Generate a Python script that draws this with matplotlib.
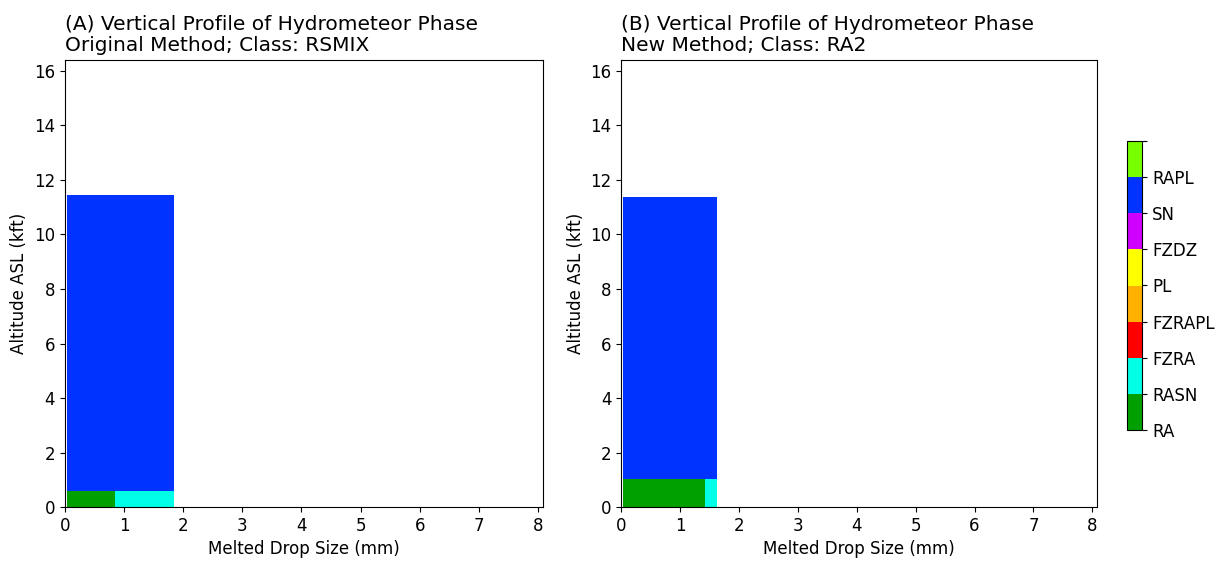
import numpy as np
import matplotlib
matplotlib.use("Agg")
import matplotlib.pyplot as plt
from matplotlib.colors import ListedColormap, BoundaryNorm

# Class names (colorbar order) and colours
classes = ["RA", "RASN", "FZRA", "FZRAPL", "PL", "FZDZ", "SN", "RAPL"]
class_colors = ["#00A000", "#00FFE6", "#FF0000", "#FFB000", "#FFFF00",
                "#D000FF", "#0033FF", "#77FF00"]

# Panel A: Original method, class RSMIX
a_x_edges = [0.03, 0.85, 1.85]
a_y_edges = [0.0, 0.58, 11.46]
a_grid = [["RA", "RASN"],
          ["SN", "SN"]]

# Panel B: New method, class RA2
b_x_edges = [0.03, 1.43, 1.63]
b_y_edges = [0.0, 1.04, 11.38]
b_grid = [["RA", "RASN"],
          ["SN", "SN"]]

titles = ["(A) Vertical Profile of Hydrometeor Phase\nOriginal Method; Class: RSMIX",
          "(B) Vertical Profile of Hydrometeor Phase\nNew Method; Class: RA2"]

x_max = 8.08
y_max = 16.404

cmap = ListedColormap(class_colors)
bounds = np.arange(len(classes) + 1)
norm = BoundaryNorm(bounds, cmap.N)

fig = plt.figure(figsize=(12.25, 5.71), dpi=100)
axA = fig.add_axes([0.053, 0.112, 0.390, 0.783])
axB = fig.add_axes([0.507, 0.112, 0.3886, 0.783])
cax = fig.add_axes([0.920, 0.247, 0.0125, 0.506])

mesh = None
for ax, xe, ye, grid, title in [(axA, a_x_edges, a_y_edges, a_grid, titles[0]),
                                 (axB, b_x_edges, b_y_edges, b_grid, titles[1])]:
    vals = np.array([[classes.index(c) + 0.5 for c in row] for row in grid])
    mesh = ax.pcolormesh(xe, ye, vals, cmap=cmap, norm=norm)
    ax.set_xlim(0, x_max)
    ax.set_ylim(0, y_max)
    ax.set_xticks(range(0, 9))
    ax.set_yticks(range(0, 17, 2))
    ax.tick_params(labelsize=12)
    ax.set_xlabel("Melted Drop Size (mm)", fontsize=12)
    ax.set_ylabel("Altitude ASL (kft)", fontsize=12)
    ax.set_title(title, loc="left", fontsize=14.5, pad=6.5, linespacing=1.15)

cb = fig.colorbar(mesh, cax=cax, ticks=bounds)
cb.ax.set_yticklabels(classes + [""])
cb.ax.tick_params(labelsize=12)

fig.savefig("out.png", dpi=100)
